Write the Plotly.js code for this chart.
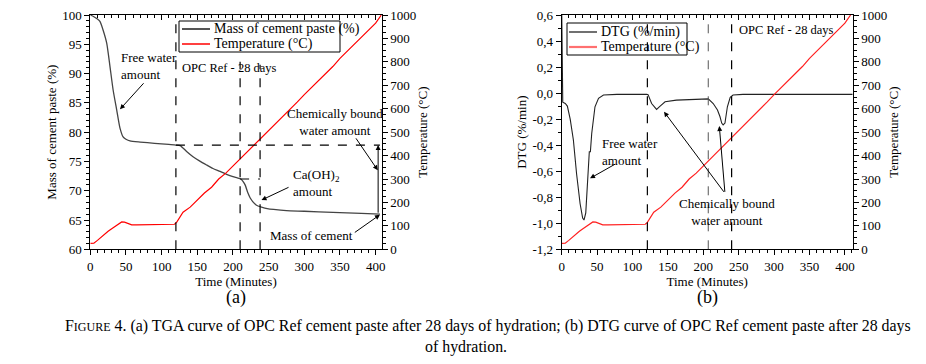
<!DOCTYPE html>
<html><head><meta charset="utf-8">
<script src="https://cdn.plot.ly/plotly-3.0.1.min.js"></script>
<style>html,body{margin:0;padding:0;background:#fff;}#chart{width:926px;height:364px;}</style>
</head><body><div id="chart"></div>
<script>
// ---- data ----
const timeMass = [0,5,10,13.5,18,23,27.6,32,37,41.6,46,50,55.6,70,90,110,120,126,135,144,153,163,172,182,191,200,206,211,214,217,221,224,228,232,236,240,248,257,275,300,340,380,406];
const massPaste = [100,99.7,99.3,98.9,97.4,95.2,91.2,87.2,83.8,80.7,79.2,78.8,78.5,78.3,78.1,77.9,77.8,77.7,76.7,75.8,75.1,74.4,73.8,73.3,72.8,72.4,72.2,72.0,71.6,71.0,69.6,68.8,68.1,67.6,67.35,67.2,66.95,66.8,66.6,66.5,66.3,66.15,66.0];
const timeTemp = [0,5,10,15,20,25,30,35,40,44,48,52,58,65,80,100,118,121,125,130,140,150,160,170,180,190,200,210,220,230,240,250,260,270,280,290,300,310,320,330,340,350,360,370,380,390,400,408];
const temperature = [25,26,38,52,65,77,88,98,108,117,116,110,104,104,105,106,107,115,135,158,180,210,240,265,300,325,355,385,415,448,478,505,535,565,598,628,660,690,720,752,780,815,845,875,905,935,965,1000];
const timeDtg = [0,1.5,5,8,12,16.5,21,26,29.6,31.5,34,36.7,38,39,40.5,42.4,47,52,59,78,120,122,127,134,139,146,162,186,207,214,220,223.5,226,228,230.6,234,238,242,256,300,411];
const dtg = [0.65,-0.07,-0.08,-0.1,-0.2,-0.36,-0.62,-0.85,-0.96,-0.975,-0.92,-0.67,-0.46,-0.45,-0.45,-0.31,-0.105,-0.04,-0.015,-0.01,-0.01,-0.012,-0.08,-0.125,-0.10,-0.067,-0.054,-0.049,-0.044,-0.08,-0.13,-0.18,-0.23,-0.245,-0.23,-0.105,-0.033,-0.015,-0.01,-0.01,-0.01];
const dtgTickVals = [-1.2,-1.0,-0.8,-0.6,-0.4,-0.2,0.0,0.2,0.4,0.6];
const dtgTickText = ["-1,2","-1,0","-0,8","-0,6","-0,4","-0,2","0,0","0,2","0,4","0,6"];
const tgaMarkers = [120,210,238];      // min, dashed verticals (a)
const dtgMarkers = [121,207,240];      // min, dashed verticals (b)
const massLevels = [77.8,72.0,66.0];   // % levels
const legendA = ['Mass of cement paste (%)','Temperature (°C)'];
const legendB = ['DTG (%/min)','Temperature (°C)'];

// ---- helpers ----
const W=926,H=364;
const px=v=>v/W, py=v=>1-v/H;
const F='"Liberation Serif", "Times New Roman", Times, serif';
const BLK='#000';

function axisBase(extra){
  return Object.assign({
    showgrid:false, zeroline:false, showline:true, linecolor:BLK, linewidth:1,
    ticks:'outside', ticklen:5, tickwidth:1, tickcolor:BLK,
    tickfont:{family:F,size:13,color:BLK}
  }, extra);
}

const traces = [
  {x:timeMass, y:massPaste, xaxis:'x', yaxis:'y', mode:'lines', name:legendA[0],
   line:{color:'#444',width:1.3,shape:'spline',smoothing:0.6}, showlegend:false},
  {x:timeTemp, y:temperature, xaxis:'x', yaxis:'y2', mode:'lines', name:legendA[1],
   line:{color:'#ff0000',width:1.2}, showlegend:false},
  {x:timeDtg, y:dtg, xaxis:'x2', yaxis:'y3', mode:'lines', name:legendB[0],
   line:{color:'#222',width:1.1}, showlegend:false},
  {x:timeTemp, y:temperature, xaxis:'x2', yaxis:'y4', mode:'lines', name:legendB[1],
   line:{color:'#ff2020',width:1.2}, showlegend:false}
];

const dA=[px(90.3),px(381.7)], dB=[px(561.7),px(852.7)], dY=[py(249.3),py(15)];
const dash={color:BLK,width:1.2,dash:'dash'};

function pl(x0,y0,x1,y1,line){return {type:'line',xref:'paper',yref:'paper',x0:px(x0),x1:px(x1),y0:py(y0),y1:py(y1),line:line};}
function prect(x0,y0,x1,y1){return {type:'rect',xref:'paper',yref:'paper',x0:px(x0),x1:px(x1),y0:py(y0),y1:py(y1),line:{color:BLK,width:1},fillcolor:'#fff',layer:'above'};}

const shapes = [
  {type:'line',xref:'x',yref:'y',x0:tgaMarkers[0],x1:tgaMarkers[0],y0:60,y1:100,line:dash},
  {type:'line',xref:'x',yref:'y',x0:tgaMarkers[1],x1:tgaMarkers[1],y0:60,y1:92,line:dash},
  {type:'line',xref:'x',yref:'y',x0:tgaMarkers[2],x1:tgaMarkers[2],y0:60,y1:91.5,line:dash},
  {type:'line',xref:'x',yref:'y',x0:tgaMarkers[0],x1:406,y0:massLevels[0],y1:massLevels[0],line:dash},
  {type:'line',xref:'x',yref:'y',x0:tgaMarkers[1],x1:tgaMarkers[2],y0:massLevels[1],y1:massLevels[1],line:dash},
  {type:'line',xref:'x2',yref:'y3',x0:dtgMarkers[0],x1:dtgMarkers[0],y0:-1.2,y1:0.6,line:dash},
  {type:'line',xref:'x2',yref:'y3',x0:dtgMarkers[1],x1:dtgMarkers[1],y0:-1.2,y1:0.6,line:{color:'#555',width:1,dash:'dash'}},
  {type:'line',xref:'x2',yref:'y3',x0:dtgMarkers[2],x1:dtgMarkers[2],y0:-1.2,y1:0.6,line:dash},
  // legend (a)
  prect(179,21,340,52),
  Object.assign(pl(182,29,210,29,{color:'#555',width:2}),{layer:'above'}),
  Object.assign(pl(182,44,210,44,{color:'#ff0000',width:1.5}),{layer:'above'}),
  // legend (b)
  Object.assign(prect(567,23,687,55),{layer:'below'}),
  pl(569,32,597,32,{color:'#111',width:1.2}),
  pl(569,47,597,47,{color:'#ff7070',width:2.2})
];

const tf={family:F,size:13,color:BLK};
const tfs={family:F,size:12.5,color:BLK};
function txt(x,y,t,opt){return Object.assign({xref:'paper',yref:'paper',x:px(x),y:py(y),text:t,showarrow:false,font:tf,xanchor:'left',yanchor:'middle',align:'left'},opt||{});}
function arr(xr,yr,x,y,ax,ay){return {xref:xr,yref:yr,axref:xr,ayref:yr,x:x,y:y,ax:ax,ay:ay,text:'',showarrow:true,arrowhead:2,arrowsize:1,arrowwidth:1,arrowcolor:BLK};}

const annotations = [
  txt(212,29,legendA[0],{font:{family:F,size:14,color:BLK}}),
  txt(212,44,legendA[1],{font:{family:F,size:14,color:BLK}}),
  txt(599,32,legendB[0],{font:{family:F,size:14,color:BLK}}),
  txt(599,47,legendB[1],{font:{family:F,size:14,color:BLK}}),
  txt(119,66,'Free water<br>amount'),
  txt(180,68,'OPC Ref - 28 days',{font:tfs}),
  txt(335,122,'Chemically bound<br>water amount',{xanchor:'center',align:'center'}),
  txt(291,183,'Ca(OH)<sub>2</sub><br>amount'),
  txt(268,235,'Mass of cement'),
  arr('x','y',41.6,83.9,76.6,88.6),
  arr('x','y',240,68.4,280,70.7),
  arr('x','y',403,73.5,371,79.2),
  arr('x','y',406,65.9,368.7,62.7),
  arr('x','y',403.5,massLevels[0],403.5,massLevels[2]),
  txt(600,152,'Free water<br>amount'),
  txt(737,30,'OPC Ref - 28 days',{font:tfs}),
  txt(727,212,'Chemically bound<br>water amount',{xanchor:'center',align:'center'}),
  arr('x2','y3',40,-0.655,77.7,-0.539),
  arr('x2','y3',144.5,-0.143,230.6,-0.77),
  arr('x2','y3',222.6,-0.253,230.6,-0.77),
  txt(236,297,'(a)',{xanchor:'center',font:{family:F,size:18,color:BLK}}),
  txt(707,297,'(b)',{xanchor:'center',font:{family:F,size:18,color:BLK}}),
  txt(488,326,'F<span style="font-size:12px">IGURE</span> 4. (a) TGA curve of OPC Ref cement paste after 28 days of hydration; (b) DTG curve of OPC Ref cement paste after 28 days',{xanchor:'center',align:'center',font:{family:F,size:15.9,color:BLK}}),
  txt(466,347,'of hydration.',{xanchor:'center',align:'center',font:{family:F,size:15.9,color:BLK}})
];

const layout = {
  width:W, height:H, margin:{l:0,r:0,t:0,b:0}, paper_bgcolor:'#fff', plot_bgcolor:'#fff',
  font:{family:F,size:13,color:BLK}, showlegend:false,
  xaxis: axisBase({domain:dA, anchor:'y', range:[0,408.5], dtick:50, minor:{dtick:10,ticklen:3,ticks:'outside'},
    title:{text:'Time (Minutes)',font:tf,standoff:2}}),
  xaxis3: axisBase({overlaying:'x', anchor:'y', side:'top', range:[0,408.5], dtick:50, ticks:'inside', showticklabels:false,
    minor:{dtick:10,ticklen:3,ticks:'inside'}}),
  yaxis: axisBase({domain:dY, anchor:'x', range:[60,100], dtick:5, minor:{dtick:1,ticklen:3,ticks:'outside'},
    title:{text:'Mass of cement paste (%)',font:tf,standoff:2}}),
  yaxis2: axisBase({overlaying:'y', anchor:'x', side:'right', range:[0,1000], dtick:100, minor:{dtick:25,ticklen:3,ticks:'outside'},
    title:{text:'Temperature (°C)',font:tf,standoff:2}}),
  xaxis2: axisBase({domain:dB, anchor:'y3', range:[0,411], dtick:50, minor:{dtick:10,ticklen:3,ticks:'outside'},
    title:{text:'Time (Minutes)',font:tf,standoff:2}}),
  xaxis4: axisBase({overlaying:'x2', anchor:'y3', side:'top', range:[0,411], dtick:50, ticks:'inside', showticklabels:false,
    minor:{dtick:10,ticklen:3,ticks:'inside'}}),
  yaxis3: axisBase({domain:dY, anchor:'x2', range:[-1.2,0.6], tickmode:'array', tickvals:dtgTickVals, ticktext:dtgTickText,
    minor:{dtick:0.1,ticklen:3,ticks:'outside'}, title:{text:'DTG (%/min)',font:tf,standoff:2}}),
  yaxis4: axisBase({overlaying:'y3', anchor:'x2', side:'right', range:[0,1000], dtick:100, minor:{dtick:25,ticklen:3,ticks:'outside'},
    title:{text:'Temperature (°C)',font:tf,standoff:2}}),
  shapes:shapes, annotations:annotations
};
// invisible traces to instantiate the overlay top axes
traces.push({x:[0],y:[60],xaxis:'x3',yaxis:'y',mode:'markers',marker:{opacity:0},showlegend:false,hoverinfo:'skip'});
traces.push({x:[0],y:[-1.2],xaxis:'x4',yaxis:'y3',mode:'markers',marker:{opacity:0},showlegend:false,hoverinfo:'skip'});
Plotly.newPlot('chart',traces,layout,{staticPlot:true});
</script></body></html>
